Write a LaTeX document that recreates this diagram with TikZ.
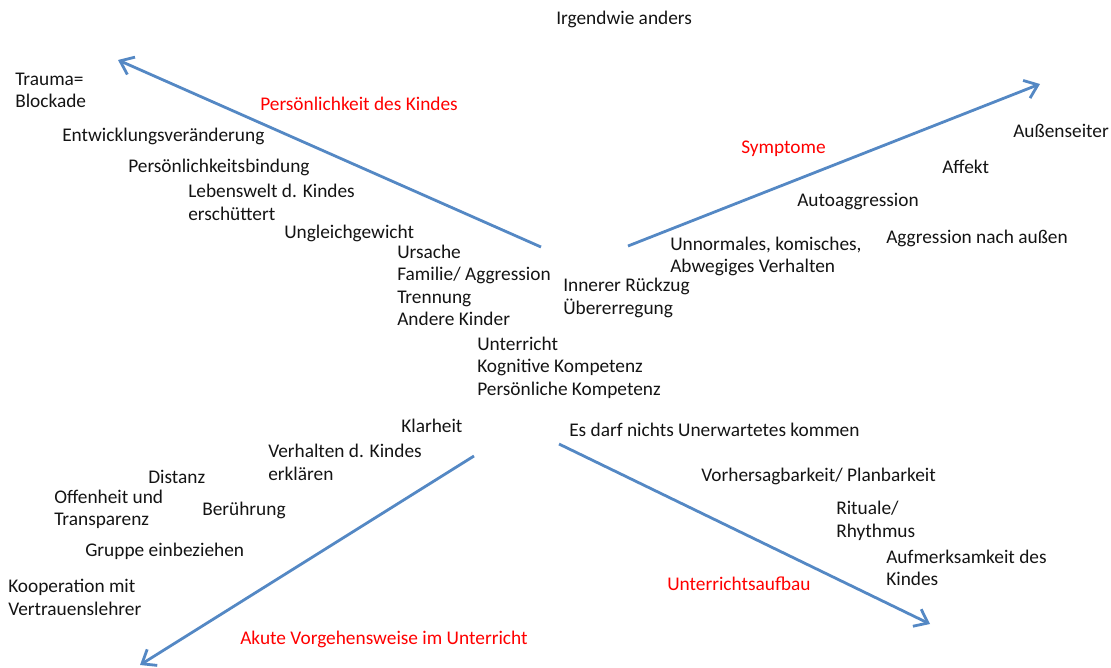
\documentclass[tikz,border=0pt]{standalone}
\usepackage{fontspec}
\setmainfont{Carlito}
\usetikzlibrary{arrows.meta,positioning}
\definecolor{MapBlue}{RGB}{84,136,196}
\definecolor{MapRed}{RGB}{255,0,0}
\definecolor{MapText}{RGB}{20,20,20}
\tikzset{
  map/item/.style={
    anchor=west,
    inner sep=0pt,
    align=left,
    text=MapText,
    font=\fontsize{14.5}{16.9}\selectfont
  },
  map/head/.style={
    map/item,
    text=MapRed
  },
  map/arrow/.style={-{Straight Barb[length=3.2mm,width=5mm]}, line width=2.1pt, draw=MapBlue}
}

\begin{document}
\begin{tikzpicture}[x=0.75pt,y=-0.75pt]
  \useasboundingbox (0,0) rectangle (1111,668);

  % the four axes
  \coordinate (pk-s) at (541,247);  \coordinate (pk-e) at (118,60);
  \coordinate (sy-s) at (628,246);  \coordinate (sy-e) at (1040,84);
  \coordinate (av-s) at (474,456);  \coordinate (av-e) at (140,665);
  \coordinate (ua-s) at (559,444);  \coordinate (ua-e) at (930,624);
  \draw[map/arrow] (pk-s) -- (pk-e);
  \draw[map/arrow] (sy-s) -- (sy-e);
  \draw[map/arrow] (av-s) -- (av-e);
  \draw[map/arrow] (ua-s) -- (ua-e);

  % headings
  \node[map/head] (pk) at (260,104) {Persönlichkeit des Kindes};
  \node[map/head] (sy) at (741,149) {Symptome};
  \node[map/head] (av) at (240,639) {Akute Vorgehensweise im Unterricht};
  \node[map/head] (ua) at (667,584) {Unterrichtsaufbau};

  % top and centre
  \node[map/item] (anders) at (556,19) {Irgendwie anders};
  \node[map/item] (ursache) at (397,285.5) {Ursache\\Familie/ Aggression\\Trennung\\Andere Kinder};
  \node[map/item] (rueckzug) at (563,298) {Innerer Rückzug\\Übererregung};
  \node[map/item] (unterricht) at (477,367.5) {Unterricht\\Kognitive Kompetenz\\Persönliche Kompetenz};

  % Persoenlichkeit des Kindes
  \node[map/item] (trauma) at (15,90.5) {Trauma=\\Blockade};
  \node[map/item] (entw) at (62,136) {Entwicklungsveränderung};
  \node[map/item] (bindung) at (128,167) {Persönlichkeitsbindung};
  \node[map/item] (lebenswelt) at (188,202.5) {Lebenswelt d. Kindes\\erschüttert};
  \node[map/item] (gleich) at (284,233) {Ungleichgewicht};

  % Symptome
  \node[map/item] (unnormal) at (670,256.5) {Unnormales, komisches,\\Abwegiges Verhalten};
  \node[map/item] (auto) at (797,202) {Autoaggression};
  \node[map/item] (affekt) at (942,167) {Affekt};
  \node[map/item] (aussen) at (1013,131) {Außenseiter};
  \node[map/item] (aggr) at (886,238) {Aggression nach außen};

  % Akute Vorgehensweise
  \node[map/item] (klarheit) at (401,426) {Klarheit};
  \node[map/item] (erklaeren) at (268,462.5) {Verhalten d. Kindes\\erklären};
  \node[map/item] (distanz) at (148,477) {Distanz};
  \node[map/item] (offen) at (54,509.5) {Offenheit und\\Transparenz};
  \node[map/item] (beruehr) at (202,510) {Berührung};
  \node[map/item] (gruppe) at (85,551) {Gruppe einbeziehen};
  \node[map/item] (koop) at (8,597.5) {Kooperation mit\\Vertrauenslehrer};

  % Unterrichtsaufbau
  \node[map/item] (unerw) at (569,430) {Es darf nichts Unerwartetes kommen};
  \node[map/item] (plan) at (701,476) {Vorhersagbarkeit/ Planbarkeit};
  \node[map/item] (ritual) at (836,521) {Rituale/\\Rhythmus};
  \node[map/item] (aufm) at (886,568) {Aufmerksamkeit des\\Kindes};
\end{tikzpicture}
\end{document}
